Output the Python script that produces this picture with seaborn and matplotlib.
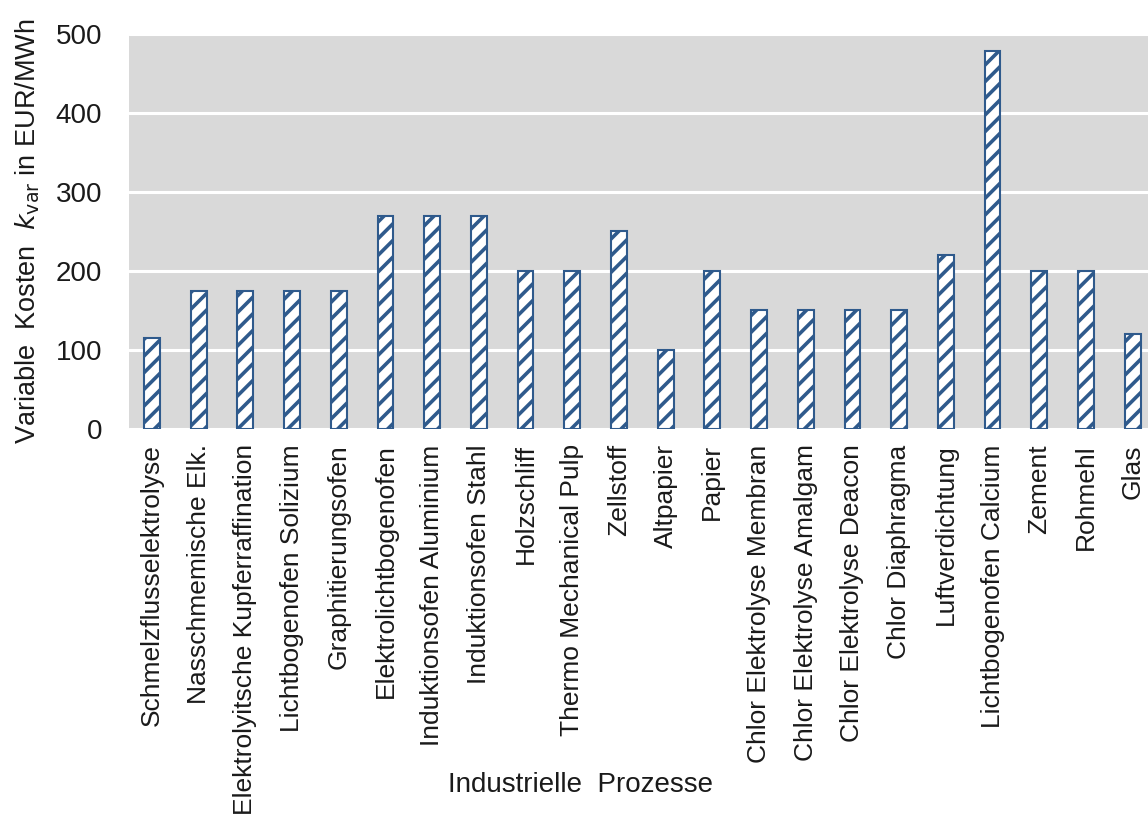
import matplotlib
matplotlib.use("Agg")
import matplotlib.pyplot as plt
import seaborn as sns
import pandas as pd

categories = [
    "Schmelzflusselektrolyse", "Nasschmemische Elk.", "Elektrolyitsche Kupferraffination",
    "Lichtbogenofen Solizium", "Graphitierungsofen", "Elektrolichtbogenofen",
    "Induktionsofen Aluminium", "Induktionsofen Stahl", "Holzschliff",
    "Thermo Mechanical Pulp", "Zellstoff", "Altpapier", "Papier",
    "Chlor Elektrolyse Membran", "Chlor Elektrolyse Amalgam", "Chlor Elektrolyse Deacon",
    "Chlor Diaphragma", "Luftverdichtung", "Lichtbogenofen Calcium", "Zement",
    "Rohmehl", "Glas",
]
values = [115, 175, 175, 175, 175, 270, 270, 270, 200, 200, 250, 100, 200,
          150, 150, 150, 150, 220, 478, 200, 200, 120]
yticks = [0, 100, 200, 300, 400, 500]

sns.set_theme(style="whitegrid")
plt.rcParams['font.family'] = ['Liberation Sans', 'DejaVu Sans']
plt.rcParams['hatch.linewidth'] = 2.6
plt.rcParams['hatch.color'] = '#2f5a8c'

df = pd.DataFrame({"Prozess": categories, "Kosten": values})

fig = plt.figure(figsize=(11.48, 8.21), dpi=100)
n = len(categories)
slot = 46.7 / 1148
ax = fig.add_axes([128.6 / 1148, 1 - 429 / 821, slot * n, (429 - 34) / 821])
ax.set_facecolor('#d9d9d9')

sns.barplot(data=df, x="Prozess", y="Kosten", ax=ax, color="white", width=0.34,
            edgecolor='#2f5a8c', linewidth=1.5, saturation=1)
for p in ax.patches:
    p.set_hatch('//')
    p.set_edgecolor('#2f5a8c')

ax.set_ylim(0, 500)
ax.set_xlim(-0.5, n - 0.5)
ax.set_yticks(yticks)
ax.set_yticklabels([str(v) for v in yticks], fontsize=20, color='#1a1a1a')
ax.tick_params(axis='y', length=0, pad=19)
ax.tick_params(axis='x', length=0, pad=11)
ax.set_xticks(range(n))
ax.set_xticklabels(categories, rotation=90, fontsize=19, color='#1a1a1a')
ax.grid(axis='y', color='white', linewidth=2.2)
ax.grid(axis='x', visible=False)
ax.set_axisbelow(True)
for s in ax.spines.values():
    s.set_visible(False)

ax.set_xlabel("Industrielle  Prozesse", fontsize=20, color='#1a1a1a')
ax.xaxis.set_label_coords((580 - 128.6) / (46.7 * n), (429 - 785) / 395)
ax.xaxis.label.set_va('center')
ax.set_ylabel(r"Variable  Kosten  $k_{\mathrm{var}}$ in EUR/MWh", fontsize=19.5,
              labelpad=10, color='#1a1a1a')

fig.savefig("out.png", dpi=100)
